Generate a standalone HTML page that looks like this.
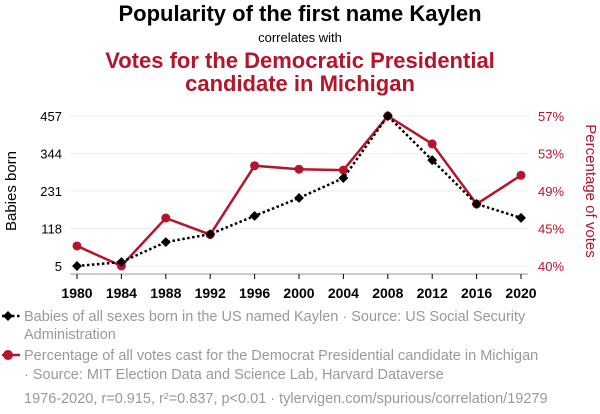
<!DOCTYPE html>
<html><head><meta charset="utf-8"><style>
body{margin:0;background:#fff;font-family:"Liberation Sans",sans-serif;}
svg{display:block}
</style></head><body>
<svg width="600" height="414" xmlns="http://www.w3.org/2000/svg" font-family="Liberation Sans, sans-serif">
<text x="300" y="21" text-anchor="middle" font-size="22" font-weight="bold" fill="#000">Popularity of the first name Kaylen</text>
<text x="300" y="42" text-anchor="middle" font-size="13" fill="#000">correlates with</text>
<text x="300" y="68" text-anchor="middle" font-size="22" font-weight="bold" fill="#b5152b">Votes for the Democratic Presidential</text>
<text x="300" y="91" text-anchor="middle" font-size="22" font-weight="bold" fill="#b5152b">candidate in Michigan</text>
<g id="grid"></g>
<g id="axes"></g>
<g id="series"></g>
<text transform="translate(16,191) rotate(-90)" text-anchor="middle" font-size="15" fill="#000">Babies born</text>
<text transform="translate(586,191) rotate(90)" text-anchor="middle" font-size="15" fill="#b5152b">Percentage of votes</text>
<g>
<line x1="2" y1="316" x2="20" y2="316" stroke="#000" stroke-width="2.5" stroke-dasharray="2.5,2.5"/>
<rect x="4.5" y="312.5" width="7" height="7" transform="rotate(45 8 316)" fill="#000"/>
<text x="24" y="321" font-size="14.5" fill="#999">Babies of all sexes born in the US named Kaylen · Source: US Social Security</text>
<text x="24" y="339" font-size="14.5" fill="#999">Administration</text>
</g>
<g>
<line x1="2" y1="355" x2="20" y2="355" stroke="#b5152b" stroke-width="2.5"/>
<circle cx="8" cy="355" r="5" fill="#b5152b"/>
<text x="24" y="360" font-size="14.5" fill="#999">Percentage of all votes cast for the Democrat Presidential candidate in Michigan</text>
<text x="24" y="379" font-size="14.5" fill="#999">· Source: MIT Election Data and Science Lab, Harvard Dataverse</text>
</g>
<text x="24" y="403" font-size="14.5" fill="#999">1976-2020, r=0.915, r²=0.837, p&lt;0.01 · tylervigen.com/spurious/correlation/19279</text>
</svg>
<script>
const years=[1980,1984,1988,1992,1996,2000,2004,2008,2012,2016,2020];
const babies=[5,17,77,101,156,210,270,457,324,192,150];
const votes=[42.5,40.2,45.7,43.8,51.7,51.3,51.2,57.4,54.2,47.3,50.6];
const leftTicks=[5,118,231,344,457];
const rightTicks=["40%","45%","49%","53%","57%"];
const NS="http://www.w3.org/2000/svg";
const x0=77,x1=521,yT=116,yB=266;
const bMin=Math.min(...babies),bMax=Math.max(...babies);
const vMin=Math.min(...votes),vMax=Math.max(...votes);
const xs=y=>x0+(y-years[0])/(years[years.length-1]-years[0])*(x1-x0);
const yl=v=>yB-(v-bMin)/(bMax-bMin)*(yB-yT);
const yr=v=>yB-(v-vMin)/(vMax-vMin)*(yB-yT);
function mk(tag,at,parent){const e=document.createElementNS(NS,tag);for(const k in at)e.setAttribute(k,at[k]);parent.appendChild(e);return e;}
const grid=document.getElementById('grid'),axes=document.getElementById('axes'),ser=document.getElementById('series');
leftTicks.forEach((t,i)=>{
 const y=yB-i/(leftTicks.length-1)*(yB-yT);
 const g=mk('line',{x1:70,x2:528,y1:y,y2:y,stroke:'#eee','stroke-width':1},grid);
 
 
 const tl=mk('text',{x:62,y:y+5,'text-anchor':'end','font-size':13,fill:'#000'},axes);tl.textContent=t;
 
 
 const tr=mk('text',{x:538,y:y+5,'font-size':13,fill:'#b5152b'},axes);tr.textContent=rightTicks[i];
 
 
});
const ax=mk('line',{x1:70,x2:528,y1:274,y2:274,stroke:'#999','stroke-width':1},axes);


years.forEach(yv=>{
 const x=xs(yv);
 mk('line',{x1:x,x2:x,y1:274,y2:279,stroke:'#000'},axes);
 const t=mk('text',{x:x,y:298,'text-anchor':'middle','font-size':14,'font-weight':'bold',fill:'#000'},axes);t.textContent=yv;
 
 
});
const rl=mk('polyline',{points:years.map((y,i)=>xs(y)+','+yr(votes[i])).join(' '),fill:'none',stroke:'#b5152b','stroke-width':2.5},ser);


votes.forEach((v,i)=>{const c=mk('circle',{cx:xs(years[i]),cy:yr(v),r:4.5,fill:'#b5152b'},ser);
 
 });
const bl=mk('polyline',{points:years.map((y,i)=>xs(y)+','+yl(babies[i])).join(' '),fill:'none',stroke:'#000','stroke-width':2.5,'stroke-dasharray':'2.5,2.5'},ser);


babies.forEach((v,i)=>{const x=xs(years[i]),y=yl(v);const r=mk('rect',{x:x-3.5,y:y-3.5,width:7,height:7,fill:'#000',transform:`rotate(45 ${x} ${y})`},ser);
 
 });
</script>
</body></html>
